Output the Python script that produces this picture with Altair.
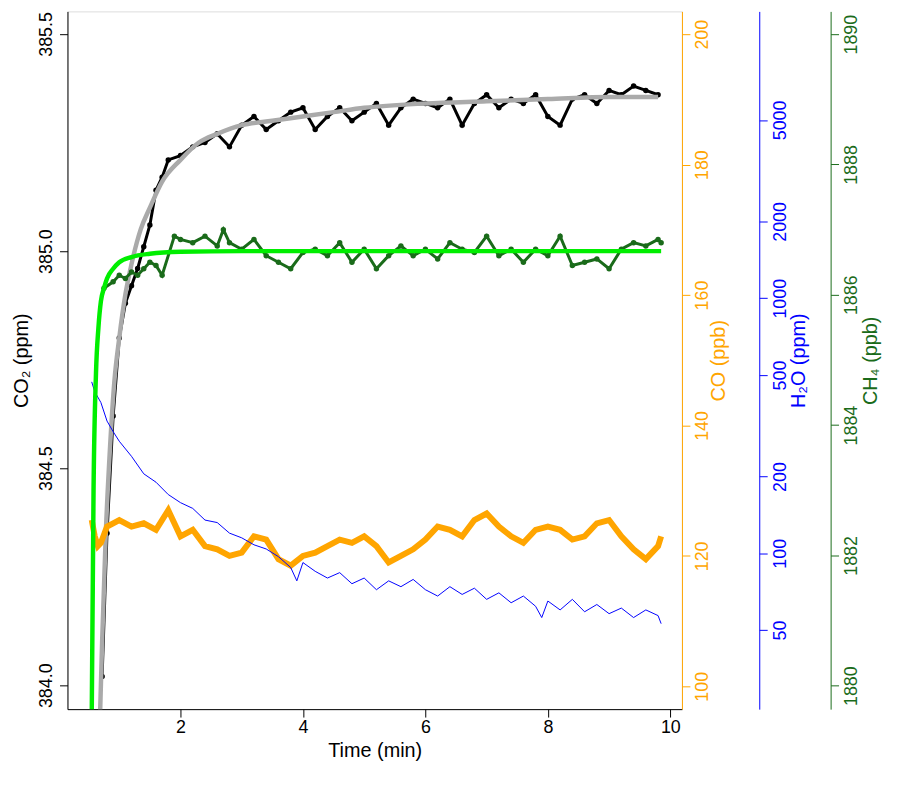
import altair as alt
import pandas as pd

t_co2 = [0.72,0.8,0.9,1.0,1.1,1.2,1.3,1.4,1.5,1.6,1.7,1.8,2.0,2.2,2.4,2.6,2.8,3.0,3.2,3.4,3.6,3.8,4.0,4.2,4.4,4.6,4.8,5.0,5.2,5.4,5.6,5.8,6.0,6.2,6.4,6.6,6.8,7.0,7.2,7.4,7.6,7.8,8.0,8.2,8.4,8.6,8.8,9.0,9.2,9.4,9.6,9.8]
co2 = [384.02,384.35,384.62,384.80,384.88,384.92,384.96,385.01,385.06,385.14,385.17,385.21,385.22,385.24,385.25,385.27,385.24,385.29,385.31,385.28,385.30,385.32,385.33,385.28,385.31,385.33,385.30,385.32,385.34,385.29,385.33,385.35,385.34,385.33,385.35,385.29,385.34,385.36,385.33,385.35,385.34,385.36,385.31,385.29,385.35,385.36,385.34,385.37,385.36,385.38,385.37,385.36]
t_co2fit = [0.68,0.72,0.78,0.85,0.92,1.0,1.1,1.2,1.35,1.5,1.7,2.0,2.3,2.6,3.0,3.5,4.0,4.5,5.0,6.0,7.0,8.0,9.0,9.8]
co2fit = [383.9,384.1,384.35,384.55,384.70,384.80,384.90,384.97,385.05,385.10,385.16,385.21,385.25,385.27,385.29,385.30,385.31,385.32,385.33,385.34,385.345,385.35,385.355,385.355]
t_ch4fit = [0.55,0.58,0.62,0.66,0.7,0.75,0.8,0.9,1.0,1.2,1.5,2.0,3,5,7,9.85]
ch4fit = [1879.5,1883.0,1884.8,1885.5,1885.9,1886.1,1886.25,1886.4,1886.5,1886.58,1886.63,1886.66,1886.67,1886.67,1886.67,1886.67]
t_ch4 = [0.75,0.9,1.0,1.1,1.2,1.3,1.4,1.5,1.6,1.7,1.9,2.0,2.2,2.4,2.6,2.7,2.8,3.0,3.2,3.4,3.6,3.8,4.0,4.2,4.4,4.6,4.8,5.0,5.2,5.4,5.6,5.8,6.0,6.2,6.4,6.6,6.8,7.0,7.2,7.4,7.6,7.8,8.0,8.2,8.4,8.6,8.8,9.0,9.2,9.4,9.6,9.8,9.85]
ch4 = [1886.1,1886.2,1886.3,1886.25,1886.35,1886.3,1886.4,1886.5,1886.45,1886.3,1886.9,1886.85,1886.8,1886.9,1886.75,1887.0,1886.8,1886.7,1886.85,1886.6,1886.5,1886.4,1886.65,1886.7,1886.6,1886.8,1886.5,1886.7,1886.4,1886.6,1886.75,1886.6,1886.7,1886.55,1886.8,1886.7,1886.65,1886.9,1886.6,1886.7,1886.5,1886.7,1886.6,1886.9,1886.45,1886.5,1886.55,1886.4,1886.7,1886.8,1886.75,1886.85,1886.8]
t_co = [0.55,0.6,0.65,0.7,0.8,0.9,1.0,1.2,1.4,1.6,1.8,2.0,2.2,2.4,2.6,2.8,3.0,3.2,3.4,3.6,3.8,4.0,4.2,4.4,4.6,4.8,5.0,5.2,5.4,5.6,5.8,6.0,6.2,6.4,6.6,6.8,7.0,7.2,7.4,7.6,7.8,8.0,8.2,8.4,8.6,8.8,9.0,9.2,9.4,9.6,9.8,9.85]
co = [125.5,123,121.5,122,124.5,125,125.5,124.5,125,124,127,123,124,121.5,121,120,120.5,123,122.5,119.5,118.5,120,120.5,121.5,122.5,122,123,121.5,119,120,121,122.5,124.5,124,123,125.5,126.5,124.5,123,122,124,124.5,124,122.5,123,125,125.5,123,121,119.5,121.5,123]
t_h2o = [0.55,0.6,0.7,0.8,0.9,1.0,1.2,1.4,1.6,1.8,2.0,2.2,2.4,2.6,2.8,3.0,3.2,3.4,3.6,3.8,3.9,4.0,4.2,4.4,4.6,4.8,5.0,5.2,5.4,5.6,5.8,6.0,6.2,6.4,6.6,6.8,7.0,7.2,7.4,7.6,7.8,7.9,8.0,8.2,8.4,8.6,8.8,9.0,9.2,9.4,9.6,9.8,9.85]
h2o = [470,430,390,330,300,275,240,205,190,170,158,150,135,132,120,115,108,104,97,88,78,92,85,80,84,76,80,72,78,74,79,72,68,74,69,73,66,70,64,68,62,56,65,60,66,59,63,58,61,56,60,57,53]

FONT = "Liberation Sans"
W, H = 620, 704
xs = alt.X("t:Q", scale=alt.Scale(domain=[0.154, 10.19], nice=False),
           axis=alt.Axis(values=[2,4,6,8,10], title="Time (min)", grid=False,
                         labelFontSize=18, titleFontSize=20, titleFontWeight="normal", domainColor="black",
                         tickColor="black", labelColor="black", titleColor="black", tickSize=8))

def ax(title, color, vals, offset, orient, fmt="d", tpad=20):
    return alt.Axis(title=title, values=vals, grid=False, orient=orient, offset=offset,
              labelAngle=-90, labelAlign="center", labelBaseline="bottom" if orient=="left" else "top",
              titleAngle=270, titleFontWeight="normal", labelFontSize=18, titleFontSize=20, domainColor=color,
              tickColor=color, labelColor=color, titleColor=color, tickSize=8, labelPadding=4,
              titlePadding=tpad, format=fmt)

d_co2 = pd.DataFrame({"t": t_co2, "v": co2})
d_co2fit = pd.DataFrame({"t": t_co2fit, "v": co2fit})
ysc = alt.Scale(domain=[383.945, 385.552], nice=False, zero=False)
yco2 = alt.Y("v:Q", scale=ysc, axis=ax("CO₂ (ppm)", "black", [384.0,384.5,385.0,385.5], 0, "left", ".1f", 6))

co2_line = alt.Chart(d_co2).mark_line(color="black", strokeWidth=3, clip=True,
                                      point=alt.OverlayMarkDef(size=30, color="black")).encode(x=xs, y=yco2)
co2_fit = alt.Chart(d_co2fit).mark_line(color="#aaaaaa", strokeWidth=4.5, clip=True, interpolate="monotone").encode(x=xs, y=yco2)

d_co = pd.DataFrame({"t": t_co, "v": co})
yco = alt.Y("v:Q", scale=alt.Scale(domain=[96.5, 203.5], nice=False, zero=False),
            axis=ax("CO (ppb)", "#ffa500", [100,120,140,160,180,200], 0, "right", "d", 17))
co_layer = alt.Chart(d_co).mark_line(color="#ffa500", strokeWidth=6, clip=True).encode(x=xs, y=yco)

d_h2o = pd.DataFrame({"t": t_h2o, "v": h2o})
yh2o = alt.Y("v:Q", scale=alt.Scale(type="log", domain=[24.5, 13320], nice=False),
             axis=ax("H₂O (ppm)", "#0000ff", [50,100,200,500,1000,2000,5000], 78, "right"))
h2o_layer = alt.Chart(d_h2o).mark_line(color="#0000ff", strokeWidth=1, clip=True).encode(x=xs, y=yh2o)

d_ch4 = pd.DataFrame({"t": t_ch4, "v": ch4})
d_ch4fit = pd.DataFrame({"t": t_ch4fit, "v": ch4fit})
sch4 = alt.Scale(domain=[1879.64, 1890.35], nice=False, zero=False)
ych4 = alt.Y("v:Q", scale=sch4, axis=ax("CH₄ (ppb)", "#1a6b1a", [1880,1882,1884,1886,1888,1890], 150, "right"))
ch4_layer = alt.layer(
    alt.Chart(d_ch4).mark_line(color="#1a6b1a", strokeWidth=3, clip=True,
                               point=alt.OverlayMarkDef(size=30, color="#1a6b1a")).encode(x=xs, y=ych4),
    alt.Chart(d_ch4fit).mark_line(color="#00ee00", strokeWidth=4.5, clip=True, interpolate="monotone").encode(x=xs, y=ych4),
)

left = alt.layer(co2_line, co2_fit)
chart = alt.layer(left, co_layer, h2o_layer, ch4_layer).resolve_scale(y="independent").properties(
    width=W, height=H, autosize=alt.AutoSizeParams(type="none"),
    padding={"left": 60, "top": 0, "right": 220, "bottom": 60}
).configure_view(stroke="#000000", strokeWidth=1.5).configure(font=FONT)

chart.save("out.html", embed_options={"renderer": "svg", "actions": False})
